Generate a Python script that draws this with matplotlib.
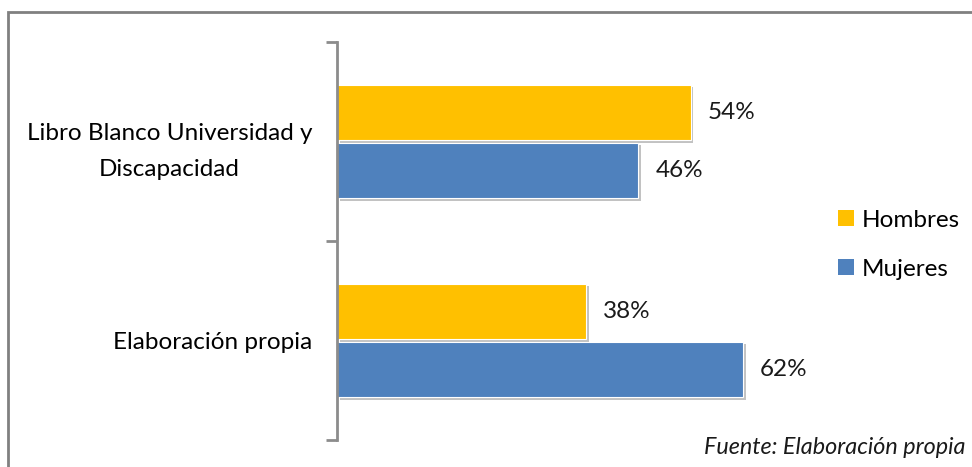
import matplotlib.pyplot as plt
from matplotlib import patheffects as pe
from matplotlib.patches import Rectangle

categorias = ["Libro Blanco Universidad y\nDiscapacidad", "Elaboración propia"]
hombres = [54, 38]
mujeres = [46, 62]
series = ["Hombres", "Mujeres"]
colores = ["#FFC000", "#4F81BD"]

plt.rcParams['font.family'] = ['Lato', 'DejaVu Sans']

fig = plt.figure(figsize=(9.72, 4.67), dpi=100)
ax = fig.add_axes([337 / 972, 1 - 440 / 467, (805 - 337) / 972, (440 - 42) / 467])

h = 0.28
off = 0.146
sombra = [pe.SimplePatchShadow(offset=(2, -2), shadow_rgbFace='#9a9a9a', alpha=0.6), pe.Normal()]
ys = list(range(len(categorias)))
for vals, d, col, nombre in [(hombres, -off, colores[0], series[0]), (mujeres, off, colores[1], series[1])]:
    barras = ax.barh([y + d for y in ys], vals, height=h, color=col, edgecolor='white',
                     linewidth=0.8, label=nombre)
    for b, v in zip(barras, vals):
        b.set_path_effects(sombra)
        ax.text(v + 2.6, b.get_y() + h / 2, f"{v}%", va='center', ha='left', fontsize=17.5, color='#1a1a1a')

ax.set_xlim(0, (805 - 337) / 6.55)
ax.set_ylim(1.5, -0.5)
ax.set_xticks([])
ax.set_yticks(ys)
ax.set_yticklabels(categorias, fontsize=17.5, ha='right', multialignment='center', linespacing=1.9)
ax.tick_params(axis='y', which='major', length=0, pad=18)
ax.set_yticks([-0.5, 0.5, 1.5], minor=True)
ax.tick_params(axis='y', which='minor', length=8, width=2, color='#8c8c8c')
for s in ['top', 'right', 'bottom']:
    ax.spines[s].set_visible(False)
ax.spines['left'].set_color('#8c8c8c')
ax.spines['left'].set_linewidth(2)

leg = ax.legend(loc='upper left', bbox_to_anchor=(828 / 972, 1 - 200 / 467), bbox_transform=fig.transFigure,
                frameon=False, fontsize=17.5, handlelength=0.65, handleheight=0.65, handletextpad=0.35,
                labelspacing=1.15, borderaxespad=0)
for p in leg.get_patches():
    p.set_path_effects([pe.Normal()])
    p.set_edgecolor('none')

fig.text(965 / 972, 1 - 447 / 467, "Fuente: Elaboración propia", ha='right', va='center',
         fontsize=16.8, style='italic', color='#1a1a1a')

fig.patches.append(Rectangle((8 / 972, -0.1), 1.2, 1 - 12 / 467 + 0.1, transform=fig.transFigure,
                             fill=False, edgecolor='#808080', linewidth=2))

fig.savefig("out.png", dpi=100)
